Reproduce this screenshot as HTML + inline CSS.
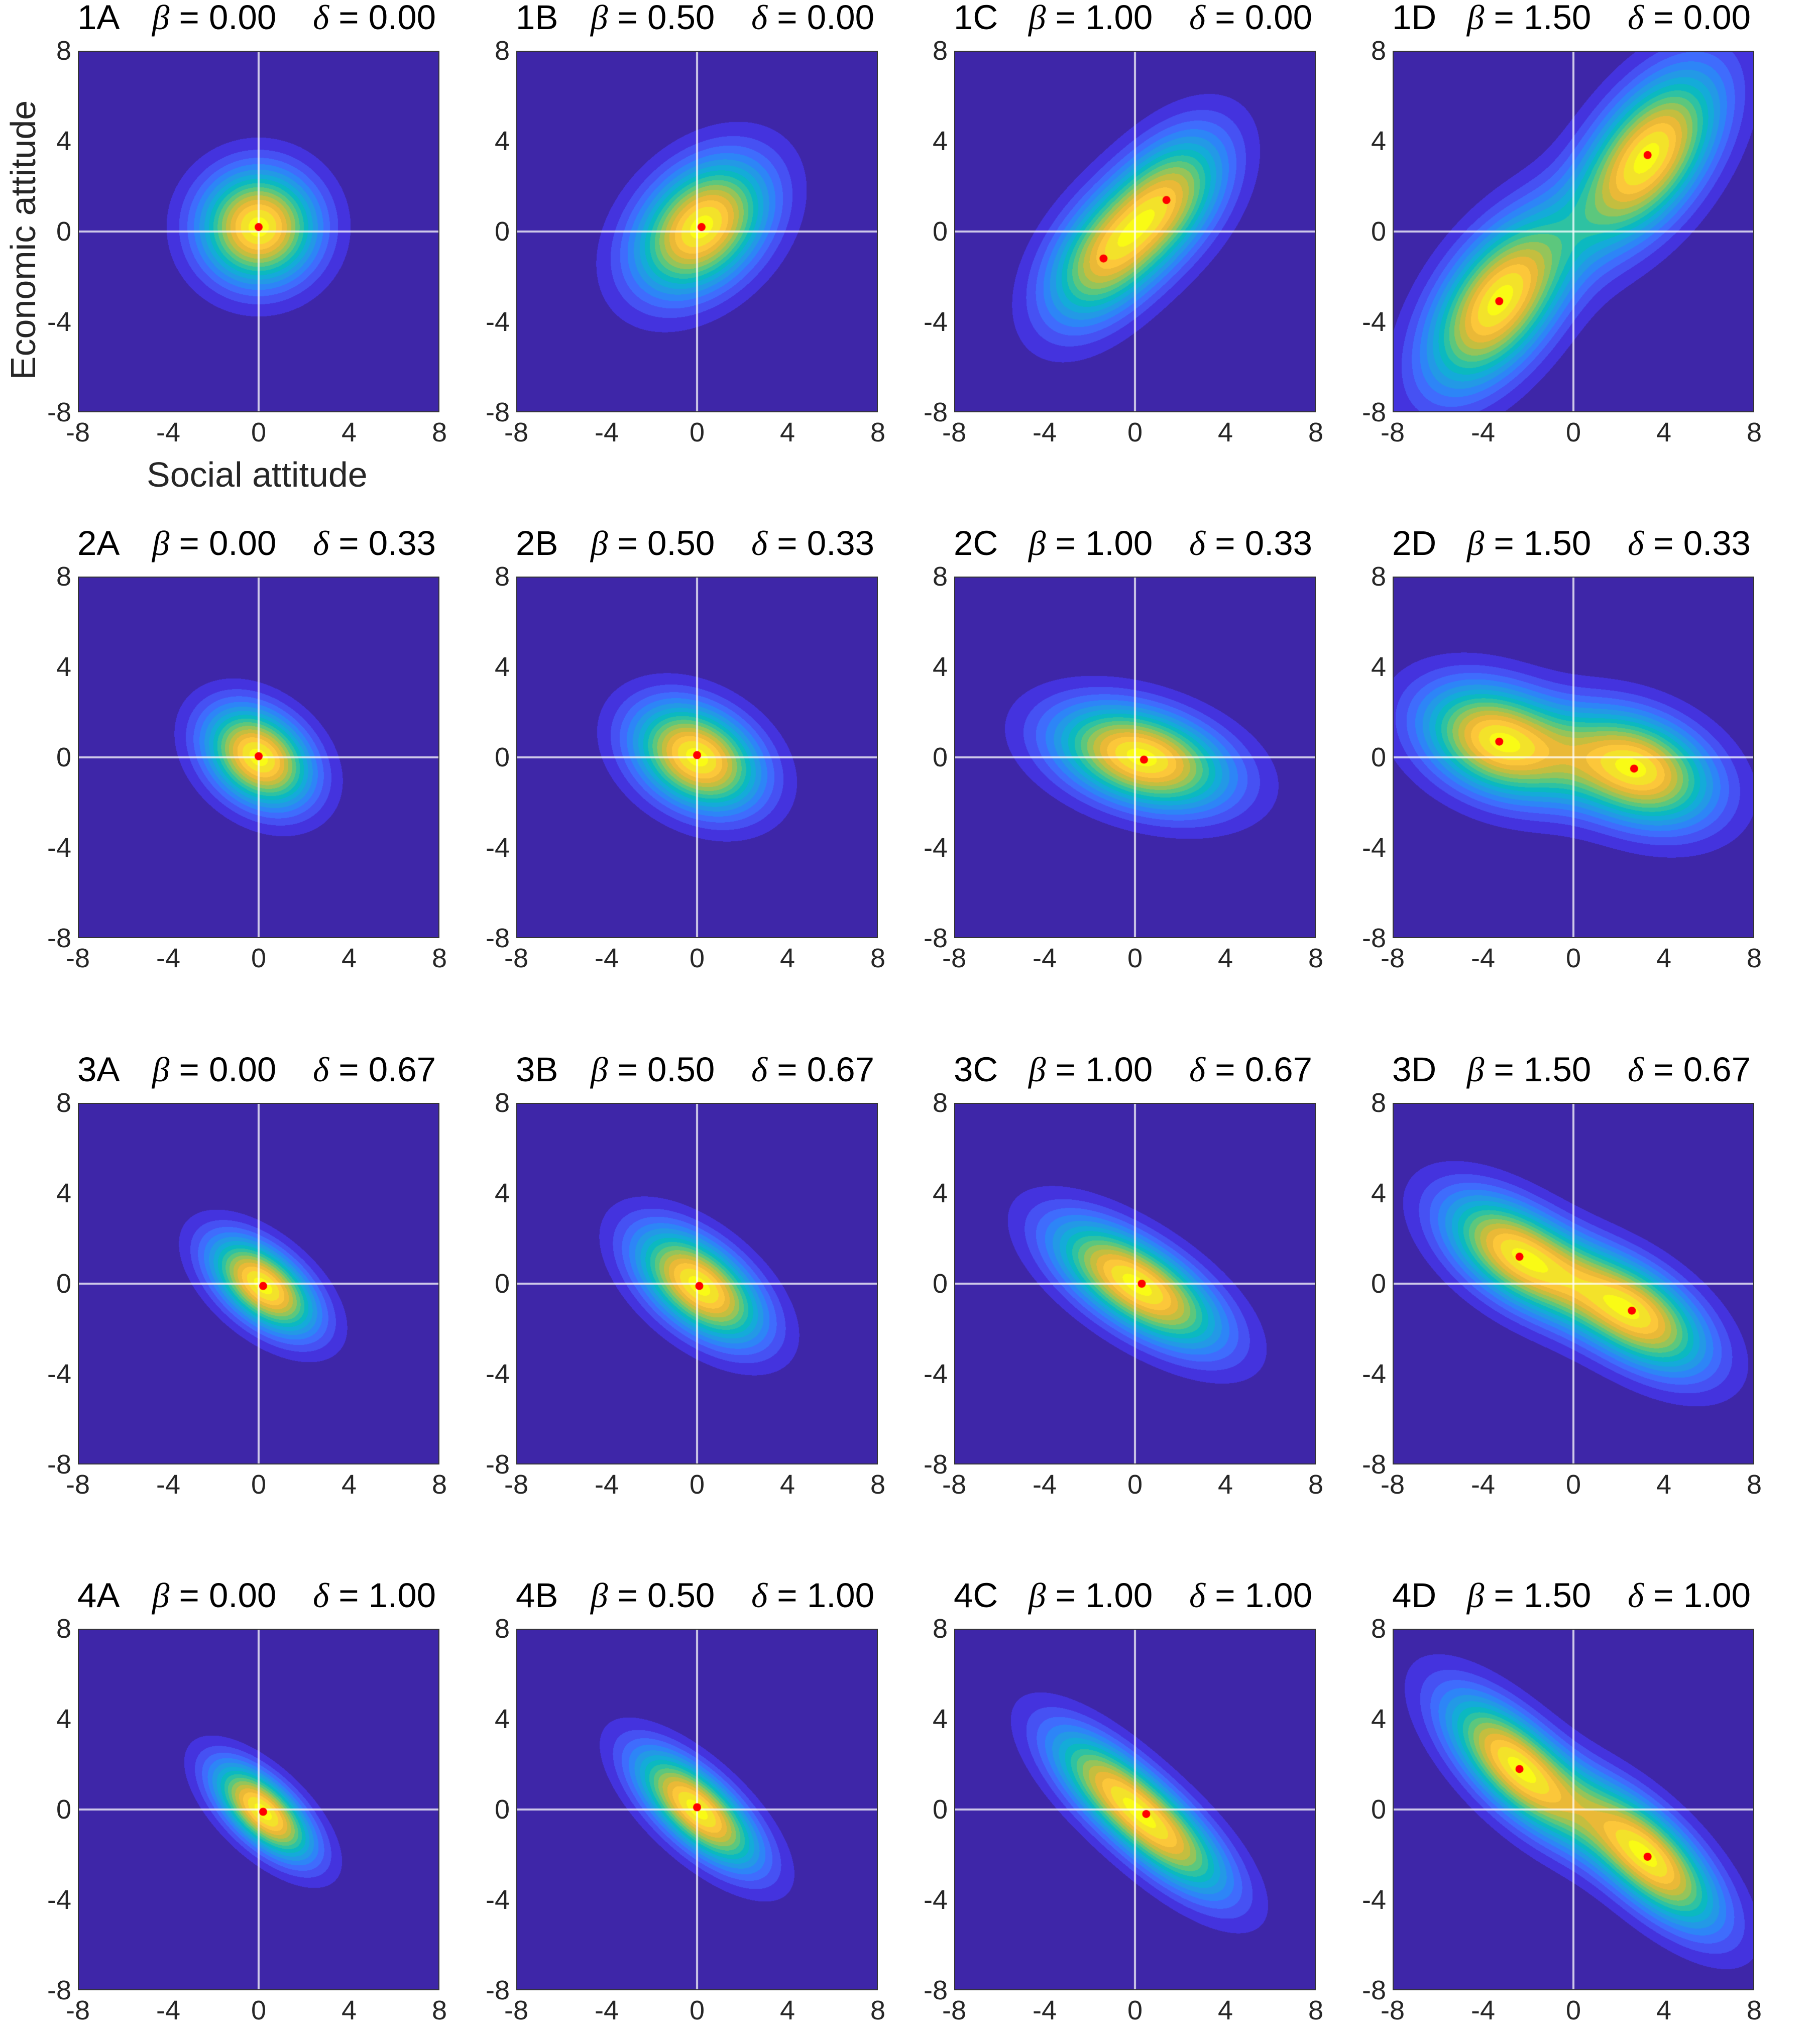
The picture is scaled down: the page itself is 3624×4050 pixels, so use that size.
<!DOCTYPE html>
<html><head><meta charset="utf-8">
<style>
html,body{margin:0;padding:0;background:#fff;}
body{width:3624px;height:4050px;position:relative;overflow:hidden;font-family:"Liberation Sans",sans-serif;color:#000;}
.p{position:absolute;width:720px;height:720px;box-sizing:border-box;border:2px solid #333;background:#3e26a8;overflow:hidden;}
.p canvas{position:absolute;left:0;top:0;width:716px;height:716px;}
.t{position:absolute;font-size:69px;line-height:69px;white-space:nowrap;}
.g{font-family:"Liberation Serif",serif;font-style:italic;}
.tk{position:absolute;font-size:54px;line-height:54px;color:#262626;white-space:nowrap;}
.lab{position:absolute;font-size:70px;color:#262626;white-space:nowrap;}
</style></head><body>
<div id="root"></div>
<div class="lab" style="left:292px;top:905px;">Social attitude</div>
<div class="lab" style="left:46px;top:478px;transform:translate(-50%,-50%) rotate(-90deg);">Economic attitude</div>
<script>
var cols=[155,1028,1900,2773], rows=[101,1148,2196,3243];
var betas=["0.00","0.50","1.00","1.50"], deltas=["0.00","0.33","0.67","1.00"], L="ABCD";
var P=[
[{m:[[0,0.2]],sx:1.75,sy:1.7,r:0,d:[[0,0.2]]},
 {m:[[0.2,0.2]],sx:2.0,sy:2.0,r:0.35,d:[[0.2,0.2]]},
 {m:[[-1.4,-1.2],[1.5,1.5]],sx:1.85,sy:2.1,r:0.45,d:[[-1.4,-1.2],[1.4,1.4]]},
 {m:[[-3.3,-3.1],[3.3,3.3]],sx:2.15,sy:2.6,r:0.55,d:[[-3.3,-3.1],[3.3,3.4]]}],
[{m:[[0,0]],sx:1.6,sy:1.5,r:-0.3,d:[[0,0.05]]},
 {m:[[0,0]],sx:1.9,sy:1.6,r:-0.3,d:[[0,0.1]]},
 {m:[[0.3,0]],sx:2.6,sy:1.55,r:-0.35,d:[[0.4,-0.1]]},
 {m:[[-3.3,0.7],[2.8,-0.5]],sx:2.3,sy:1.7,r:-0.3,d:[[-3.3,0.7],[2.7,-0.5]]}],
[{m:[[0.2,-0.1]],sx:1.6,sy:1.45,r:-0.55,d:[[0.2,-0.1]]},
 {m:[[0.1,-0.1]],sx:1.9,sy:1.7,r:-0.55,d:[[0.1,-0.1]]},
 {m:[[-1,0.6],[1.2,-0.7]],sx:2.2,sy:1.75,r:-0.6,d:[[0.3,0]]},
 {m:[[-2.5,1.3],[2.7,-1.3]],sx:2.2,sy:1.8,r:-0.55,d:[[-2.4,1.2],[2.6,-1.2]]}],
[{m:[[0.2,-0.1]],sx:1.5,sy:1.45,r:-0.65,d:[[0.2,-0.1]]},
 {m:[[0,0]],sx:1.85,sy:1.75,r:-0.7,d:[[0,0.1]]},
 {m:[[-1.2,1.1],[1.6,-1.4]],sx:2.0,sy:1.9,r:-0.7,d:[[0.5,-0.2]]},
 {m:[[-2.5,1.9],[3.3,-2.1]],sx:2.15,sy:2.15,r:-0.7,d:[[-2.4,1.8],[3.3,-2.1]]}]];
var C=["#3e26a8","#4433de","#4651f3","#3f6cfd","#2d85f7","#2399e6","#14abd9","#0bb9c0","#2ec2a2","#5cc77d","#95c45a","#c4be3f","#eab937","#fcc73a","#f3e22a","#f9fb15"];
var CR=C.map(function(h){return [parseInt(h.substr(1,2),16),parseInt(h.substr(3,2),16),parseInt(h.substr(5,2),16)];});
var root=document.getElementById('root'),html='';
for(var i=0;i<4;i++)for(var j=0;j<4;j++){
 var x=cols[j],y=rows[i];
 html+='<div class="t" style="left:'+(x-1)+'px;top:'+(y-101)+'px">'+(i+1)+L[j]+'</div>';
 html+='<div class="t" style="left:'+(x+148)+'px;top:'+(y-101)+'px"><span class="g">β</span> = '+betas[j]+'</div>';
 html+='<div class="t" style="left:'+(x+468)+'px;top:'+(y-101)+'px"><span class="g">δ</span> = '+deltas[i]+'</div>';
 html+='<div class="p" id="p'+i+j+'" style="left:'+x+'px;top:'+y+'px"><canvas width="716" height="716"></canvas></div>';
 var tv=[8,4,0,-4,-8];
 for(var k=0;k<5;k++){
  var yy=y+(8-tv[k])/16*720;
  html+='<div class="tk" style="left:'+(x-13)+'px;top:'+(yy-27)+'px;transform:translateX(-100%)">'+tv[k]+'</div>';
  var xx=x+(tv[4-k]+8)/16*720;
  html+='<div class="tk" style="left:'+xx+'px;top:'+(y+733)+'px;transform:translateX(-50%)">'+tv[4-k]+'</div>';
 }
}
root.innerHTML=html;
for(var i=0;i<4;i++)for(var j=0;j<4;j++){
 var p=P[i][j],cv=document.querySelector('#p'+i+j+' canvas'),ctx=cv.getContext('2d');
 var N=716,img=ctx.createImageData(N,N),D=new Float32Array(N*N),mx=0;
 var sx=p.sx,sy=p.sy,r=p.r,q=1-r*r;
 for(var py=0;py<N;py++){var Y=8-16*(py+0.5)/N;for(var px=0;px<N;px++){var X=-8+16*(px+0.5)/N,v=0;
  for(var k=0;k<p.m.length;k++){var a=(X-p.m[k][0])/sx,b=(Y-p.m[k][1])/sy;v+=Math.exp(-(a*a-2*r*a*b+b*b)/(2*q));}
  D[py*N+px]=v;if(v>mx)mx=v;}}
 for(var n=0;n<N*N;n++){var f=D[n]/mx,l=Math.floor(f*15.5);if(l>15)l=15;if(l<0)l=0;var c=CR[l];
  img.data[n*4]=c[0];img.data[n*4+1]=c[1];img.data[n*4+2]=c[2];img.data[n*4+3]=255;}
 ctx.putImageData(img,0,0);
 ctx.fillStyle='rgba(255,255,255,0.75)';ctx.fillRect(N/2-2,0,4,N);ctx.fillRect(0,N/2-2,N,4);
 ctx.fillStyle='#ff0000';
 for(var k=0;k<p.d.length;k++){ctx.beginPath();ctx.arc((p.d[k][0]+8)/16*N,(8-p.d[k][1])/16*N,8,0,7);ctx.fill();}
}
</script>
</body></html>
